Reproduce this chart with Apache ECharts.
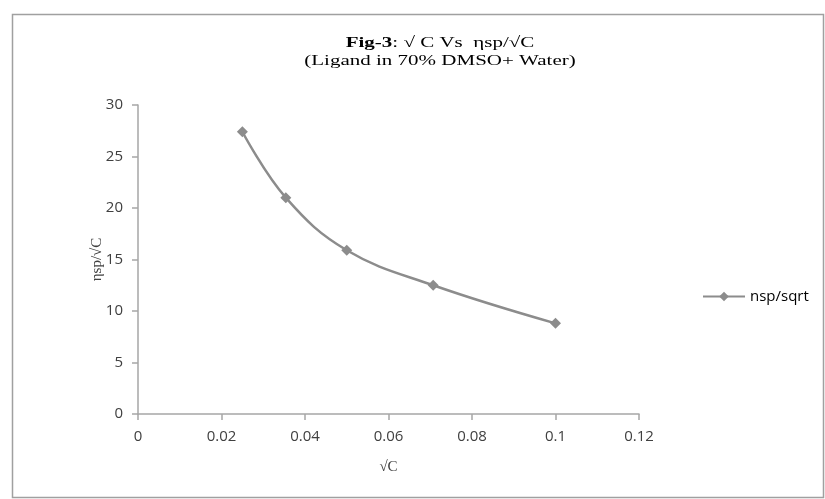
<!DOCTYPE html>
<html>
<head>
<meta charset="utf-8">
<script src="https://cdn.jsdelivr.net/npm/echarts@6/dist/echarts.min.js"></script>
<style>
	html, body { margin: 0; padding: 0; background: #fff; }
	#chart { width: 825px; height: 499px; }
</style>
</head>
<body>
<div id="chart"></div>
<script>
const sqrtC = [0.025, 0.0354, 0.05, 0.0707, 0.1]
const etaSpSqrtC = [27.4, 21.0, 15.9, 12.5, 8.8]
const seriesName = 'nsp/sqrt'
const titleLine1 = ': √ C Vs  ηsp/√C'
const titleLine2 = '(Ligand in 70% DMSO+ Water)'

const chartDom = document.getElementById('chart')
const myChart = echarts.init(chartDom)

const points = sqrtC.map((x, i) => [x, etaSpSqrtC[i]])
const axisGray = '#a6a6a6'
const labelColor = '#404040'

// the source picture is stretched sideways, so the title is widened a bit
const option = {
	backgroundColor: '#fff',
	animation: false,
	grid: {
		left: 138,
		right: 186,
		top: 105,
		bottom: 85,
	},
	legend: {
		left: 697,
		top: 284,
		itemWidth: 42,
		itemHeight: 12,
		itemGap: 4,
		textStyle: {
			fontFamily: 'Open Sans',
			fontSize: 15,
			color: '#000',
		},
		data: [seriesName],
	},
	xAxis: {
		type: 'value',
		min: 0,
		max: 0.12,
		interval: 0.02,
		name: '√C',
		nameLocation: 'middle',
		nameGap: 46,
		nameTextStyle: { fontFamily: 'Liberation Serif', fontSize: 15, color: labelColor },
		splitLine: { show: false },
		axisLine: { show: true, lineStyle: { color: axisGray, width: 1.5 } },
		axisTick: { show: true, length: 6, lineStyle: { color: axisGray, width: 1.5 } },
		axisLabel: {
			margin: 15,
			fontFamily: 'Open Sans',
			fontSize: 15,
			color: labelColor,
			formatter: v => String(parseFloat(v.toFixed(2))),
		},
	},
	yAxis: {
		type: 'value',
		min: 0,
		max: 30,
		interval: 5,
		name: 'ηsp/√C',
		nameLocation: 'middle',
		nameGap: 33,
		nameRotate: 90,
		nameMoveOverlap: false,
		nameTextStyle: { fontFamily: 'Liberation Serif', fontSize: 15, color: labelColor },
		splitLine: { show: false },
		axisLine: { show: true, lineStyle: { color: axisGray, width: 1.5 } },
		axisTick: { show: true, length: 6, lineStyle: { color: axisGray, width: 1.5 } },
		axisLabel: {
			margin: 15,
			fontFamily: 'Open Sans',
			fontSize: 15,
			color: labelColor,
		},
	},
	graphic: [
		{
			type: 'rect',
			shape: { x: 12.5, y: 14.5, width: 811, height: 483 },
			style: { fill: 'none', stroke: '#a0a0a0', lineWidth: 1.5 },
			silent: true,
		},
		{
			type: 'text',
			x: 440,
			y: 34,
			scaleX: 1.4,
			style: {
				text: '{b|Fig-3}' + titleLine1 + '\n' + titleLine2,
				align: 'center',
				verticalAlign: 'top',
				font: '15px "Liberation Serif"',
				fill: '#000',
				lineHeight: 18,
				rich: {
					b: { font: 'bold 15px "Liberation Serif"', fill: '#000' },
				},
			},
			silent: true,
		},
	],
	series: [
		{
			name: seriesName,
			type: 'line',
			data: points,
			smooth: 0.4,
			symbol: 'diamond',
			symbolSize: 11,
			lineStyle: { color: '#8c8c8c', width: 2.5 },
			itemStyle: { color: '#8c8c8c' },
		},
	],
}

myChart.setOption(option)
</script>
</body>
</html>
